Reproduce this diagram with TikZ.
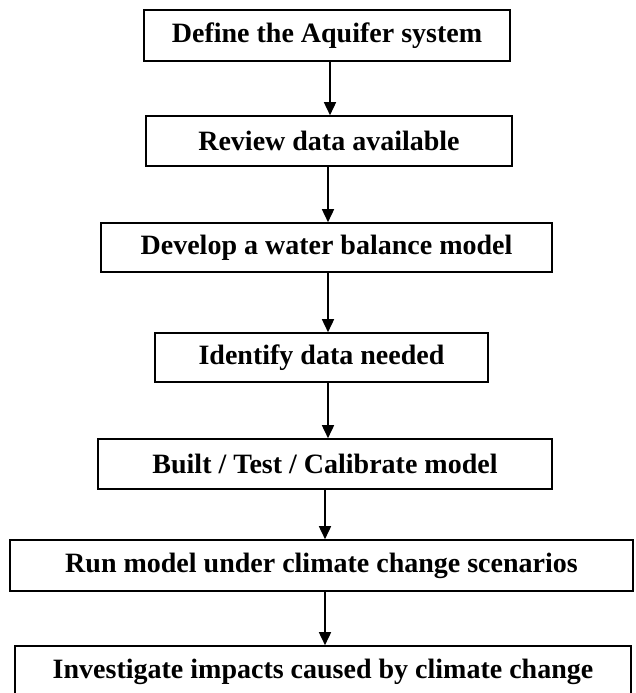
\documentclass[tikz,border=0pt]{standalone}
\usepackage{fontspec}
\setmainfont{Liberation Serif}
\usetikzlibrary{arrows.meta}
\tikzset{
  stepbox/.style={draw=black, line width=1.6pt, rectangle, inner sep=0pt,
    font=\fontsize{28}{32}\selectfont\bfseries, text=black},
  flowarrow/.style={line width=1.6pt, -{Triangle[width=12pt,length=13pt]}}
}
\begin{document}
\begin{tikzpicture}[x=1pt,y=-1pt]
\useasboundingbox (0,0) rectangle (635,693);
\node[stepbox, minimum width=366pt, minimum height=51pt] (b1) at (327,35.5) {Define the Aquifer system};
\node[stepbox, minimum width=366pt, minimum height=50pt] (b2) at (329,141) {Review data available};
\node[stepbox, minimum width=451pt, minimum height=49pt] (b3) at (326.5,247.5) {Develop a water balance model};
\node[stepbox, minimum width=333pt, minimum height=49pt] (b4) at (321.5,357.5) {Identify data needed};
\node[stepbox, minimum width=454pt, minimum height=50pt] (b5) at (325,464) {Built / Test / Calibrate model};
\node[stepbox, minimum width=623pt, minimum height=51pt] (b6) at (321.5,565.5) {Run model under climate change scenarios};
\node[stepbox, minimum width=616pt, minimum height=51pt] (b7) at (323,671.5) {Investigate impacts caused by climate change};
% vertical guides for the connectors
\coordinate (ax1) at (330,0);
\coordinate (ax2) at (328,0);
\coordinate (ax3) at (325,0);
\draw[flowarrow] (b1.south -| ax1) -- (b2.north -| ax1);
\draw[flowarrow] (b2.south -| ax2) -- (b3.north -| ax2);
\draw[flowarrow] (b3.south -| ax2) -- (b4.north -| ax2);
\draw[flowarrow] (b4.south -| ax2) -- (b5.north -| ax2);
\draw[flowarrow] (b5.south -| ax3) -- (b6.north -| ax3);
\draw[flowarrow] (b6.south -| ax3) -- (b7.north -| ax3);
\end{tikzpicture}
\end{document}
